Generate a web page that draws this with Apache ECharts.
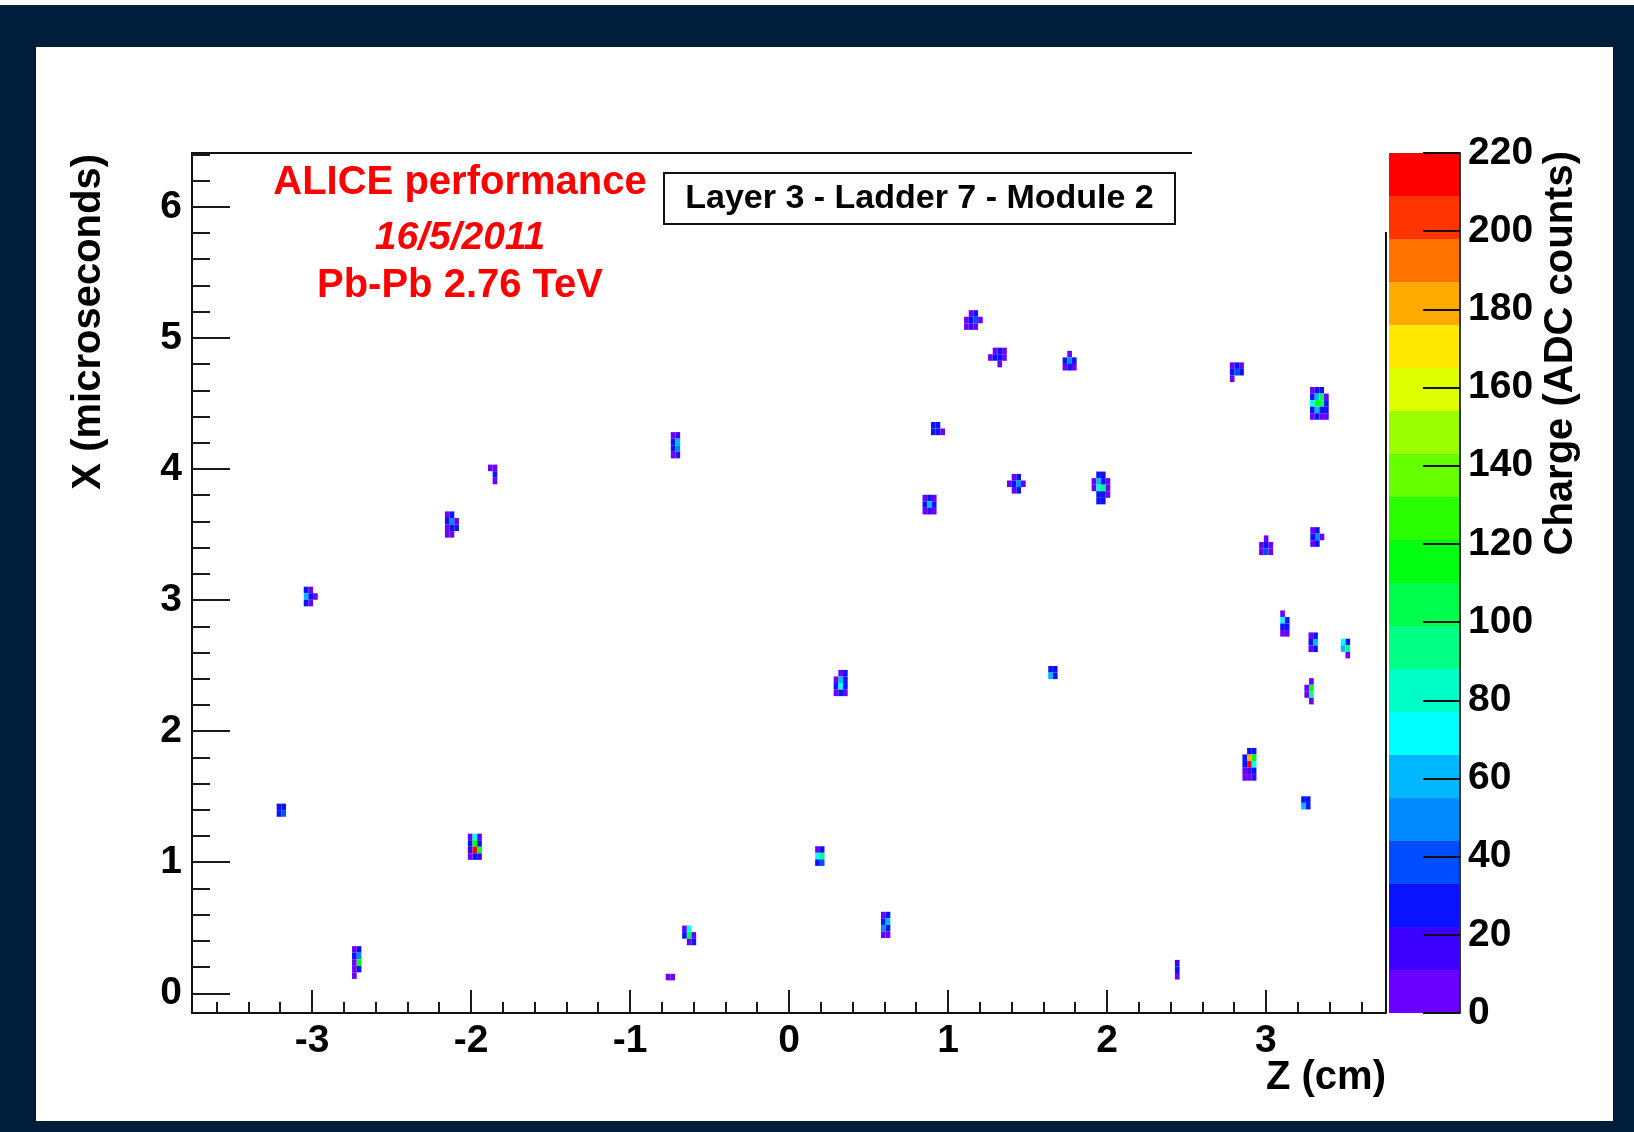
<!DOCTYPE html>
<html>
<head>
<meta charset="utf-8">
<title>SDD charge map</title>
<script src="https://cdn.jsdelivr.net/npm/echarts@6/dist/echarts.min.js"></script>
<style>
  html, body { margin: 0; padding: 0; background: #011d3c; }
  #main { width: 1634px; height: 1132px; }
</style>
</head>
<body>
<div id="main"></div>
<script>
// Bin widths of the charge map: anode pitch along Z (cm) and drift-time sample (µs)
const CELL_DZ = 0.0294;
const CELL_DT = 0.05;

// Cluster centres: Z (cm) and X drift time (microseconds)
const clusterZ = [
  1.160, 1.311, 1.765, 2.817, 3.336, 0.937, -0.714, -1.864, -2.120, 0.884,
  1.430, 1.962, 3.001, 3.323, -3.008, 3.119, 3.297, 3.500, 0.325, 1.660,
  3.271, 2.896, 3.251, -3.193, -1.976, 0.194, 0.608, -0.628, -2.719, -0.746,
  2.442
];
const clusterX = [
  5.136, 4.850, 4.826, 4.738, 4.500, 4.308, 4.181, 3.958, 3.576, 3.728,
  3.887, 3.855, 3.418, 3.481, 3.027, 2.821, 2.678, 2.630, 2.367, 2.447,
  2.304, 1.747, 1.453, 1.397, 1.118, 1.047, 0.522, 0.442, 0.235, 0.124,
  0.180
];
// Charge (ADC counts) per cell of each cluster, rows from late to early drift time
const clusterCharge = [
  [[0, 8, 27, 0], [6, 27, 40, 8], [6, 16, 8, 0]],
  [[0, 8, 27, 8], [6, 27, 30, 6], [0, 0, 8, 0]],
  [[0, 8, 0], [27, 45, 27], [8, 27, 8]],
  [[8, 27, 8], [27, 40, 27], [8, 0, 0]],
  [[6, 27, 27, 0], [27, 60, 100, 8], [70, 115, 105, 27], [27, 55, 30, 27], [8, 27, 8, 6]],
  [[27, 27, 0], [27, 30, 8]],
  [[8, 16], [27, 60], [27, 45], [8, 16]],
  [[8, 6], [0, 27], [0, 8]],
  [[8, 27, 0], [27, 50, 8], [8, 27, 27], [8, 8, 0]],
  [[8, 27, 8], [27, 55, 27], [8, 16, 8]],
  [[0, 8, 27, 0], [8, 30, 50, 8], [0, 8, 27, 0]],
  [[0, 27, 27, 0], [8, 60, 30, 8], [8, 85, 95, 8], [0, 27, 30, 8], [0, 27, 27, 0]],
  [[0, 8, 0], [8, 27, 8], [8, 40, 8]],
  [[8, 27, 0], [27, 50, 8], [8, 27, 0]],
  [[27, 8, 0], [60, 27, 8], [27, 8, 0]],
  [[8, 0], [70, 27], [27, 30], [8, 8]],
  [[8, 27], [27, 60], [8, 27]],
  [[70, 27], [55, 95], [0, 8]],
  [[0, 8, 27], [8, 60, 27], [27, 72, 27], [8, 27, 8]],
  [[27, 27], [55, 27]],
  [[0, 8], [8, 110], [8, 95], [0, 8]],
  [[0, 27, 27], [27, 185, 110], [27, 215, 72], [8, 16, 27], [8, 8, 16]],
  [[27, 27], [55, 27]],
  [[27, 27], [27, 40]],
  [[8, 72, 8], [27, 115, 27], [16, 210, 110], [8, 27, 16]],
  [[8, 27], [72, 95], [27, 40]],
  [[8, 27], [27, 55], [45, 27], [8, 8]],
  [[8, 72, 0], [27, 100, 8], [0, 8, 27]],
  [[8, 27], [27, 50], [8, 115], [8, 27], [8, 0]],
  [[8, 8]],
  [[16], [27], [8]]
];

// Contour levels of the colour scale and their colours (low to high)
const contourLevels = [0, 11, 22, 33, 44, 55, 66, 77, 88, 99, 110, 121, 132, 143, 154, 165, 176, 187, 198, 209, 220];
const paletteColors = [
  '#6a00ff', '#3c00ff', '#0a12ff', '#004cff', '#008aff', '#00b8ff', '#00ffff',
  '#00ffc8', '#00ff84', '#00ff4c', '#00ff10', '#2aff00', '#66ff00', '#9cff00',
  '#ddff00', '#ffe800', '#ffaa00', '#ff7400', '#ff3400', '#ff0000'
];

// Axis tick labels
const zTicks = [-3, -2, -1, 0, 1, 2, 3];
const xTicks = [0, 1, 2, 3, 4, 5, 6];

const FONT = '"Liberation Sans", Arial, Helvetica, sans-serif';

function minorTicks(lo, hi, step, majors) {
  const out = [];
  for (let v = Math.ceil(lo / step - 1e-9); v * step <= hi + 1e-9; v++) {
    const t = +(v * step).toFixed(4);
    if (!majors.some(m => Math.abs(m - t) < 1e-6)) out.push(t);
  }
  return out;
}

function chargeColor(q) {
  let i = 0;
  while (i < paletteColors.length - 1 && q >= contourLevels[i + 1]) i++;
  return paletteColors[i];
}

// Flatten clusters into individual cells [Z, X, charge]
const cells = [];
clusterZ.forEach((z0, k) => {
  const g = clusterCharge[k];
  const nr = g.length, nc = g[0].length;
  g.forEach((row, r) => row.forEach((q, c) => {
    if (q > 0) {
      cells.push([z0 + (c - (nc - 1) / 2) * CELL_DZ, clusterX[k] + ((nr - 1) / 2 - r) * CELL_DT, q]);
    }
  }));
});

const bands = paletteColors.map((col, i) => [contourLevels[i], contourLevels[i + 1], i]);

const Z_MIN = -3.755, Z_MAX = 3.755, X_MIN = -0.15, X_MAX = 6.41;

const plot = { left: 192, top: 153, width: 1194, height: 860 };
const bar = { left: 1389, top: 153, width: 71, height: 860 };

const tickStyle = { color: '#1a1a1a', width: 2 };
const labelStyle = { color: '#000', fontSize: 39, fontWeight: 'bold', fontFamily: FONT };

const chart = echarts.init(document.getElementById('main'), null, { renderer: 'canvas' });

chart.setOption({
  backgroundColor: '#011d3c',
  animation: false,
  grid: [
    Object.assign({ show: false, outerBoundsMode: 'none', containLabel: false }, plot),
    Object.assign({ show: false, outerBoundsMode: 'none', containLabel: false }, bar)
  ],
  xAxis: [
    {
      type: 'value', gridIndex: 0, min: Z_MIN, max: Z_MAX, position: 'bottom',
      axisLine: { show: true, onZero: false, lineStyle: { color: '#111', width: 2 } },
      axisTick: { show: true, inside: true, length: 23, customValues: zTicks, lineStyle: tickStyle },
      axisLabel: Object.assign({ show: true, margin: 9, customValues: zTicks }, labelStyle),
      splitLine: { show: false }
    },
    {
      type: 'value', gridIndex: 0, min: Z_MIN, max: Z_MAX, position: 'bottom', offset: 0,
      axisLine: { show: false, onZero: false },
      axisTick: { show: true, inside: true, length: 11, customValues: minorTicks(Z_MIN, Z_MAX, 0.2, zTicks), lineStyle: tickStyle },
      axisLabel: { show: false },
      splitLine: { show: false }
    },
    { type: 'value', gridIndex: 1, min: 0, max: 1, show: false }
  ],
  yAxis: [
    {
      type: 'value', gridIndex: 0, min: X_MIN, max: X_MAX, position: 'left',
      axisLine: { show: true, onZero: false, lineStyle: { color: '#111', width: 2 } },
      axisTick: { show: true, inside: true, length: 38, customValues: xTicks, lineStyle: tickStyle },
      axisLabel: Object.assign({ show: true, margin: 10, customValues: xTicks }, labelStyle),
      splitLine: { show: false }
    },
    {
      type: 'value', gridIndex: 0, min: X_MIN, max: X_MAX, position: 'left', offset: 0,
      axisLine: { show: false, onZero: false },
      axisTick: { show: true, inside: true, length: 18, customValues: minorTicks(X_MIN, X_MAX, 0.2, xTicks), lineStyle: tickStyle },
      axisLabel: { show: false },
      splitLine: { show: false }
    },
    {
      type: 'value', gridIndex: 1, min: 0, max: 220, interval: 20, position: 'right', z: 5,
      axisLine: { show: true, onZero: false, lineStyle: { color: '#333', width: 2 } },
      axisTick: { show: true, inside: true, length: 37, lineStyle: { color: '#111', width: 2 } },
      axisLabel: Object.assign({ show: true, margin: 8 }, labelStyle),
      splitLine: { show: false }
    }
  ],
  series: [
    {
      type: 'custom',
      name: 'Charge',
      coordinateSystem: 'cartesian2d',
      xAxisIndex: 0, yAxisIndex: 0,
      encode: { x: 0, y: 1 },
      data: cells,
      renderItem: function (params, api) {
        const c = api.coord([api.value(0), api.value(1)]);
        const s = api.size([CELL_DZ, CELL_DT]);
        return {
          type: 'rect',
          shape: { x: c[0] - s[0] / 2, y: c[1] - s[1] / 2, width: s[0], height: s[1] },
          style: { fill: chargeColor(api.value(2)) }
        };
      }
    },
    {
      type: 'custom',
      name: 'Palette',
      coordinateSystem: 'cartesian2d',
      xAxisIndex: 2, yAxisIndex: 2,
      encode: { y: [0, 1] },
      z: 1,
      data: bands,
      renderItem: function (params, api) {
        const lo = api.coord([0, api.value(0)]);
        const hi = api.coord([1, api.value(1)]);
        return {
          type: 'rect',
          shape: { x: lo[0], y: hi[1], width: hi[0] - lo[0], height: lo[1] - hi[1] },
          style: { fill: paletteColors[api.value(2)] }
        };
      }
    }
  ],
  graphic: [
    // page panel
    { type: 'rect', z: -10, shape: { x: 0, y: 0, width: 1634, height: 5 }, style: { fill: '#ffffff' } },
    { type: 'rect', z: -10, shape: { x: 36, y: 47, width: 1577, height: 1074 }, style: { fill: '#ffffff' } },
    // remaining frame edges
    { type: 'line', z: 5, shape: { x1: 191, y1: 153, x2: 1192, y2: 153 }, style: { stroke: '#111', lineWidth: 2 } },
    { type: 'line', z: 5, shape: { x1: 1386, y1: 232, x2: 1386, y2: 1013 }, style: { stroke: '#111', lineWidth: 2 } },
    // run information
    { type: 'text', z: 10, x: 460, y: 183, style: { text: 'ALICE performance', fill: '#ff0000', font: 'bold 40px ' + FONT, align: 'center', verticalAlign: 'middle' } },
    { type: 'text', z: 10, x: 460, y: 238, style: { text: '16/5/2011', fill: '#ff0000', font: 'italic bold 39px ' + FONT, align: 'center', verticalAlign: 'middle' } },
    { type: 'text', z: 10, x: 460, y: 286, style: { text: 'Pb-Pb 2.76 TeV', fill: '#ff0000', font: 'bold 40px ' + FONT, align: 'center', verticalAlign: 'middle' } },
    // module label box
    { type: 'rect', z: 10, shape: { x: 664, y: 173, width: 511, height: 51 }, style: { fill: '#ffffff', stroke: '#111', lineWidth: 2 } },
    { type: 'text', z: 11, x: 919.5, y: 199, style: { text: 'Layer 3 - Ladder 7 - Module 2', fill: '#000', font: 'bold 34px ' + FONT, align: 'center', verticalAlign: 'middle' } },
    // axis titles
    { type: 'text', z: 10, x: 89, y: 154, rotation: Math.PI / 2, style: { text: 'X (microseconds)', fill: '#000', font: 'bold 40px ' + FONT, align: 'right', verticalAlign: 'middle' } },
    { type: 'text', z: 10, x: 1386, y: 1078, style: { text: 'Z (cm)', fill: '#000', font: 'bold 40px ' + FONT, align: 'right', verticalAlign: 'middle' } },
    { type: 'text', z: 10, x: 1561, y: 151, rotation: Math.PI / 2, style: { text: 'Charge (ADC counts)', fill: '#000', font: 'bold 40px ' + FONT, align: 'right', verticalAlign: 'middle' } }
  ]
});
</script>
</body>
</html>
